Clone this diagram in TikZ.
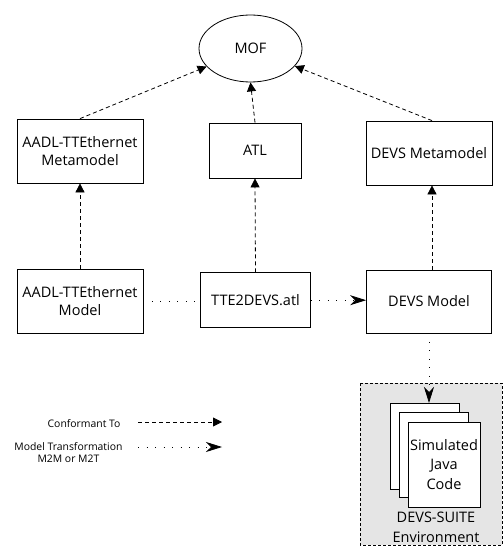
\documentclass[tikz,border=0pt]{standalone}
\usepackage{fontspec}
\setmainfont{Open Sans}
\usetikzlibrary{arrows.meta,shapes.geometric,calc}
\begin{document}
\begin{tikzpicture}[x=1pt,y=-1pt,
  every node/.style={font=\fontsize{14.5}{17.5}\selectfont},
  box/.style={draw,line width=0.8pt,align=center,inner sep=1pt},
  conf/.style={draw,line width=0.8pt,dash pattern=on 4pt off 3pt,-{Triangle[length=9pt,width=9pt]}},
  trans/.style={draw,line width=0.8pt,dash pattern=on 1pt off 7.5pt,-{Stealth[length=16pt,width=10pt,inset=5pt]}},
  transline/.style={draw,line width=0.8pt,dash pattern=on 1pt off 7.5pt},
  page/.style={draw,line width=0.8pt,fill=white},
  legend/.style={font=\fontsize{10.4}{12.5}\selectfont,align=center}]
\useasboundingbox (0,0) rectangle (503,548);
% environment
\draw[line width=0.8pt,dash pattern=on 3pt off 2pt,fill=black!10] (360,383) rectangle (502,545);
\node[ellipse,draw,line width=0.8pt,minimum width=103pt,minimum height=67pt] (mof) at (250.5,48.5) {MOF};
\node[box,minimum width=126pt,minimum height=64pt] (aameta) at (80,151) {AADL-TTEthernet\\Metamodel};
\node[box,minimum width=92pt,minimum height=55pt] (atl) at (255,150.5) {ATL};
\node[box,minimum width=126pt,minimum height=64pt] (devsmeta) at (429,153) {DEVS Metamodel};
\node[box,minimum width=126pt,minimum height=64pt] (aamodel) at (80,301) {AADL-TTEthernet\\Model};
\node[box,minimum width=110pt,minimum height=55pt] (tte) at (255.5,300.2) {TTE2DEVS.atl};
\node[box,minimum width=125pt,minimum height=63pt] (devsmodel) at (429,301.5) {DEVS Model};
% pages
\draw[page] (390,403) rectangle (459,489);
\draw[page] (399,412) rectangle (468,497);
\node[page,minimum width=72pt,minimum height=85pt,inner sep=0pt,align=center,font=\fontsize{14.5}{19.5}\selectfont] (code) at (444,464.5) {Simulated\\Java\\Code};
\coordinate (page1top) at (429,403);
\node[align=center,font=\fontsize{14.5}{19.5}\selectfont] (env) at (436,527.5) {DEVS-SUITE\\Environment};
% conformance arrows
\draw[conf] (aameta.north) -- (mof);
\draw[conf] (atl.north) -- (mof.south);
\draw[conf] ($(devsmeta.north)+(3,0)$) -- (mof);
\draw[conf] (aamodel.north) -- (aameta.south);
\draw[conf] (tte.north) -- (atl.south);
\draw[conf] ($(devsmodel.north)+(3,0)$) -- ($(devsmeta.south)+(3,0)$);
% transformations
\draw[transline] (aamodel.east) -- (aamodel.east -| tte.west);
\draw[trans] (tte.east) -- (tte.east -| devsmodel.west);
\draw[trans] (devsmodel.south -| page1top) -- (page1top);
% legend
\node[legend,anchor=east] (lg1) at (124,424) {Conformant To};
\node[legend,anchor=east] (lg2) at (126,452.5) {Model Transformation\\M2M or M2T};
\coordinate (l1a) at (138,422);
\coordinate (l1b) at (222,422);
\coordinate (l2a) at (138,447);
\coordinate (l2b) at (222,447);
\draw[conf] (l1a) -- (l1b);
\draw[trans] (l2a) -- (l2b);
\end{tikzpicture}
\end{document}
